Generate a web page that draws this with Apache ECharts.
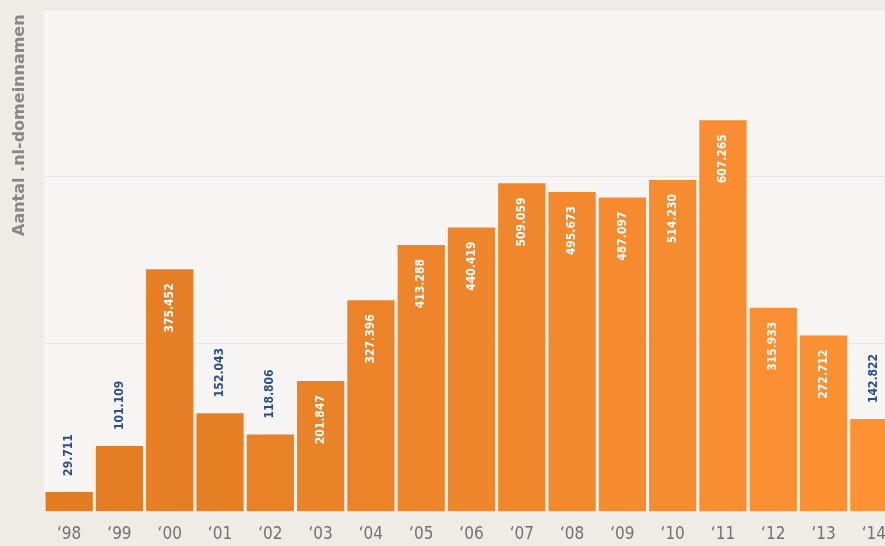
<!DOCTYPE html>
<html lang="nl">
<head>
	<meta charset="UTF-8">
	<title>Aantal .nl-domeinnamen</title>
	<style>
		html, body {
			margin: 0;
			padding: 0;
			overflow: hidden;
			background: #efece8;
		}
		#container {
			width: 905px;
			height: 546px;
		}
	</style>
</head>
<body>
	<div id="container"></div>

	<script src="https://cdn.jsdelivr.net/npm/echarts@6/dist/echarts.min.js"></script>
	<script>
		var years = ['98', '99', '00', '01', '02', '03', '04', '05', '06', '07', '08', '09', '10', '11', '12', '13', '14'];
		var domains = [29711, 101109, 375452, 152043, 118806, 201847, 327396, 413288, 440419, 509059, 495673, 487097, 514230, 607265, 315933, 272712, 142822];

		// kleur loopt van donker oranje (links) naar licht oranje (rechts)
		var colorFrom = [226, 123, 34];
		var colorTo = [253, 145, 52];

		function barColor(i) {
			var t = i / (years.length - 1);
			var c = colorFrom.map(function(v, k) {
				return Math.round(v + (colorTo[k] - v) * t);
			});
			return 'rgb(' + c.join(',') + ')';
		}

		function fmt(v) {
			return String(v).replace(/\B(?=(\d{3})+(?!\d))/g, '.');
		}

		var labelFont = '"DejaVu Sans Condensed", "DejaVu Sans", sans-serif';

		var data = domains.map(function(v, i) {
			var inside = v > 180000;
			return {
				value: v,
				itemStyle: { color: barColor(i) },
				label: inside ? {
					position: 'insideTop',
					distance: 14,
					align: 'right',
					color: '#ffffff'
				} : {
					position: 'top',
					distance: 16,
					align: 'left',
					color: '#2a4f8f'
				}
			};
		});

		var myChart = echarts.init(document.getElementById('container'));

		var option = {
			backgroundColor: '#efece8',
			animation: false,
			grid: {
				left: 44,
				top: 9,
				width: 855,
				height: 502,
				show: true,
				backgroundColor: '#f6f5f3',
				borderWidth: 0
			},
			xAxis: {
				type: 'category',
				data: years,
				axisLine: { show: false },
				axisTick: { show: false },
				axisLabel: {
					margin: 15,
					color: '#74726f',
					fontSize: 17,
					fontFamily: labelFont,
					formatter: function(v) {
						return '\u2018' + v;
					}
				}
			},
			yAxis: {
				type: 'value',
				min: 0,
				max: 780000,
				interval: 260000,
				axisLabel: { show: false },
				axisLine: { show: false },
				axisTick: { show: false },
				splitLine: {
					lineStyle: { color: '#e9e5e1', width: 1 }
				}
			},
			graphic: [{
				type: 'text',
				x: 20,
				y: 236,
				rotation: Math.PI / 2,
				style: {
					text: 'Aantal .nl-domeinnamen',
					fill: '#8a8784',
					font: 'bold 16px "DejaVu Sans", sans-serif',
					align: 'left',
					verticalAlign: 'middle'
				}
			}],
			series: [{
				type: 'bar',
				data: data,
				barCategoryGap: '6%',
				label: {
					show: true,
					rotate: 90,
					verticalAlign: 'middle',
					fontSize: 12,
					fontWeight: 'bold',
					fontFamily: labelFont,
					formatter: function(p) {
						return fmt(p.value);
					}
				}
			}]
		};

		myChart.setOption(option);
	</script>
</body>
</html>
